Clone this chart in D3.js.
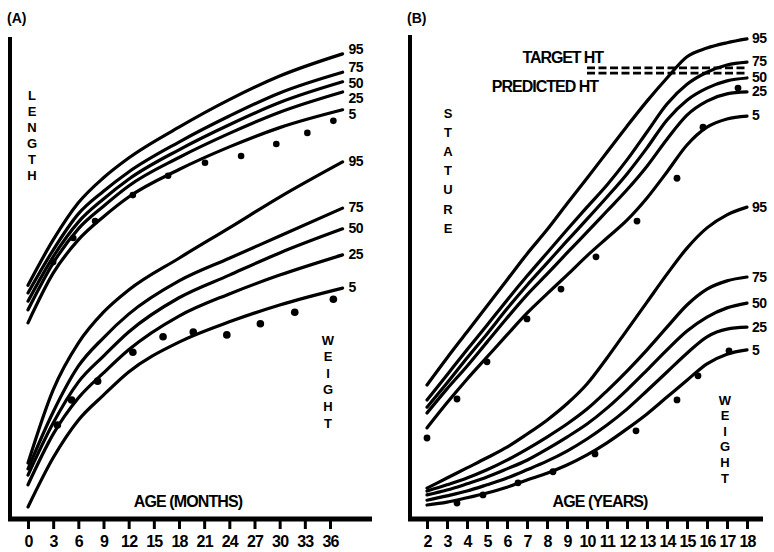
<!DOCTYPE html>
<html>
<head>
<meta charset="utf-8">
<script src="https://cdn.jsdelivr.net/npm/d3@7"></script>
<style>
  body { margin: 0; background: #fff; }
  text { font-family: "Liberation Sans", Arial, sans-serif; fill: #000; }
</style>
</head>
<body>
<div id="chart"></div>
<script>
"use strict";

// Values are relative units (0 = baseline, 100 = top of the panel)
const pctLabels = ["95", "75", "50", "25", "5"];

// Panel A: birth to 36 months
const ageMonths = [0, 3, 6, 9, 12, 18, 24, 30, 37.5];
const monthTicks = [0, 3, 6, 9, 12, 15, 18, 21, 24, 27, 30, 33, 36];
const lengthA = [
  [48.5, 57.9, 65.6, 70.8, 74.9, 81.3, 87.0, 91.9, 96.5],
  [46.9, 55.8, 63.3, 68.0, 72.0, 78.2, 83.6, 88.4, 92.7],
  [45.2, 54.4, 61.6, 66.4, 70.5, 76.6, 81.8, 86.4, 90.7],
  [43.4, 53.1, 60.2, 64.9, 69.1, 75.0, 80.0, 84.4, 88.6],
  [40.7, 51.0, 57.9, 62.7, 66.8, 72.5, 77.2, 81.2, 84.9]
];
const weightA = [
  [11.6, 26.8, 36.5, 42.9, 47.5, 54.1, 60.4, 66.8, 74.1],
  [10.4, 22.2, 31.7, 37.6, 42.5, 49.4, 54.1, 58.7, 64.5],
  [9.1, 19.9, 28.4, 33.8, 38.8, 45.9, 50.6, 55.2, 60.2],
  [7.1, 17.6, 25.1, 30.3, 35.1, 42.1, 46.7, 50.6, 54.8],
  [2.5, 12.7, 20.5, 25.7, 30.5, 36.7, 40.9, 44.4, 47.9]
];
const lengthDotMonths = [3.0, 5.4, 8.0, 12.5, 16.7, 21.1, 25.4, 29.6, 33.3, 36.4];
const lengthDots = [53.3, 58.3, 61.8, 67.2, 71.2, 73.9, 75.3, 77.8, 80.1, 82.6];
const weightDotMonths = [3.5, 5.2, 8.3, 12.5, 16.1, 19.7, 23.7, 27.7, 31.8, 36.4];
const weightDotsA = [19.5, 24.7, 28.6, 34.6, 37.8, 38.8, 38.2, 40.5, 42.9, 45.6];

// Panel B: 2 to 18 years
const ageYears = [2, 3, 4, 5, 6, 7, 8, 9, 10, 11, 12, 13, 14, 15, 16, 17, 18];
const statureB = [
  [27.8, 33.4, 38.8, 44.2, 49.6, 55.0, 60.0, 65.4, 70.7, 76.1, 81.5, 86.7, 91.5, 95.9, 97.7, 98.8, 99.6],
  [24.7, 29.9, 35.1, 40.2, 45.4, 50.4, 55.2, 60.0, 64.7, 69.3, 74.5, 80.3, 86.1, 90.2, 92.7, 94.2, 94.8],
  [23.2, 28.2, 33.4, 38.4, 43.6, 48.5, 53.1, 57.7, 62.2, 66.8, 71.6, 77.0, 82.8, 86.9, 89.4, 90.9, 91.5],
  [22.0, 27.0, 31.7, 36.7, 41.7, 46.5, 50.8, 55.2, 59.5, 63.9, 68.3, 73.2, 78.8, 83.8, 86.7, 88.2, 88.6],
  [18.9, 24.1, 29.0, 33.6, 38.2, 42.7, 46.7, 50.6, 54.6, 58.3, 62.0, 66.6, 72.0, 77.6, 81.3, 83.0, 83.6]
];
const weightB = [
  [6.4, 8.5, 10.6, 12.7, 14.9, 17.6, 20.5, 23.9, 28.0, 33.4, 39.2, 45.0, 50.8, 56.2, 60.4, 63.1, 64.7],
  [5.8, 7.1, 8.5, 10.2, 12.2, 14.5, 17.0, 19.7, 22.8, 26.6, 30.7, 35.1, 39.8, 44.4, 47.7, 49.4, 50.2],
  [5.0, 6.0, 7.3, 8.7, 10.4, 12.2, 14.5, 17.0, 19.7, 23.0, 26.8, 30.9, 35.1, 39.0, 41.9, 43.8, 44.8],
  [3.9, 4.8, 5.8, 7.1, 8.5, 10.2, 12.0, 14.1, 16.6, 19.5, 22.8, 26.6, 30.5, 34.4, 37.8, 39.4, 39.8],
  [2.9, 3.5, 4.4, 5.4, 6.6, 8.1, 9.5, 11.2, 13.3, 15.8, 18.7, 21.8, 25.3, 28.8, 32.2, 34.2, 35.1]
];
const statureDotYears = [2.0, 3.5, 5.0, 7.0, 8.7, 10.45, 12.5, 14.5, 15.8, 17.55];
const statureDots = [16.8, 24.9, 32.6, 41.5, 47.7, 54.4, 61.8, 70.7, 81.3, 89.4];
const weightDotYears = [3.5, 4.8, 6.55, 8.3, 10.4, 12.45, 14.5, 15.55, 17.1];
const weightDotsB = [3.3, 5.0, 7.5, 9.8, 13.5, 18.3, 24.7, 29.7, 34.9];
const heightLineYears = [10, 18];
const targetHt = 93.6;
const predictedHt = 92.5;

const svg = d3.select("#chart").append("svg")
  .attr("width", 774)
  .attr("height", 552);

const y = d3.scaleLinear().domain([0, 100]).range([519, 37]);
const xA = d3.scaleLinear().domain([0, 36]).range([28, 330]);
const xB = d3.scaleLinear().domain([2, 18]).range([427, 747]);

function curveLine(x) {
  return d3.line()
    .x(d => x(d[0]))
    .y(d => y(d[1]))
    .curve(d3.curveMonotoneX);
}

// spread labels so they don't overlap, keeping the group centred
function spreadLabels(ys, gap) {
  let out = ys.slice();
  for (let i = 1; i < out.length; i++) {
    if (out[i] - out[i - 1] < gap) out[i] = out[i - 1] + gap;
  }
  let shift = d3.mean(ys) - d3.mean(out);
  if (shift < 0) out = out.map(v => v + shift);
  return out;
}

function drawCurves(g, x, ages, series, labelDx, gap, dyLabel) {
  let line = curveLine(x);
  series.forEach(function(vals) {
    g.append("path")
      .datum(ages.map((a, i) => [a, vals[i]]))
      .attr("d", line)
      .attr("fill", "none")
      .attr("stroke", "#000")
      .attr("stroke-width", 3.2)
      .attr("stroke-linecap", "round")
      .attr("stroke-linejoin", "round");
  });
  let last = ages[ages.length - 1];
  let ends = series.map(vals => y(vals[vals.length - 1]) + dyLabel);
  let labelYs = spreadLabels(ends, gap);
  pctLabels.forEach(function(p, i) {
    g.append("text")
      .attr("x", x(last) + labelDx)
      .attr("y", labelYs[i])
      .attr("dy", "0.36em")
      .attr("font-size", "14px")
      .attr("font-weight", "bold")
      .attr("letter-spacing", "-0.5px")
      .text(p);
  });
}

function drawDots(g, x, ages, vals, r) {
  g.selectAll(null)
    .data(ages.map((a, i) => [a, vals[i]]))
    .enter().append("circle")
    .attr("cx", d => x(d[0]))
    .attr("cy", d => y(d[1]))
    .attr("r", r)
    .attr("fill", "#000");
}

function verticalWord(g, word, x, y0, step) {
  word.split("").forEach(function(ch, i) {
    g.append("text")
      .attr("x", x)
      .attr("y", y0 + i * step)
      .attr("dy", "0.36em")
      .attr("text-anchor", "middle")
      .attr("font-size", "13px")
      .attr("font-weight", "bold")
      .text(ch);
  });
}

function drawAxes(g, x, ticks, left, right, top) {
  let axis = d3.axisBottom(x)
    .tickValues(ticks)
    .tickSize(10)
    .tickPadding(6.5)
    .tickFormat(d3.format("d"));
  let ag = g.append("g")
    .attr("transform", "translate(0," + y(0) + ")")
    .call(axis);
  ag.select(".domain").remove();
  ag.selectAll(".tick line").attr("stroke", "#000").attr("stroke-width", 3);
  ag.selectAll(".tick text")
    .attr("fill", "#000")
    .attr("font-family", "'Liberation Sans', Arial, sans-serif")
    .attr("font-size", "16px")
    .attr("font-weight", "bold")
    .attr("letter-spacing", "-0.8px");

  g.append("line")
    .attr("x1", left).attr("x2", left)
    .attr("y1", top).attr("y2", y(0) + 2)
    .attr("stroke", "#000").attr("stroke-width", 4);
  g.append("line")
    .attr("x1", left - 2).attr("x2", right)
    .attr("y1", y(0)).attr("y2", y(0))
    .attr("stroke", "#000").attr("stroke-width", 5);
}

function plainText(g, x, yPos, anchor, spacing, str) {
  g.append("text")
    .attr("x", x).attr("y", yPos)
    .attr("text-anchor", anchor)
    .attr("font-size", "16px")
    .attr("font-weight", "bold")
    .attr("letter-spacing", spacing + "px")
    .text(str);
}

// ---- Panel A ----
let gA = svg.append("g");
gA.append("text").attr("x", 7).attr("y", 23)
  .attr("font-size", "14px").attr("font-weight", "bold").text("(A)");
drawAxes(gA, xA, monthTicks, 10, 372, 37);
drawCurves(gA, xA, ageMonths, lengthA, 6, 15.5, 0);
drawCurves(gA, xA, ageMonths, weightA, 6, 15.5, -1);
drawDots(gA, xA, lengthDotMonths, lengthDots, 3.3);
drawDots(gA, xA, weightDotMonths, weightDotsA, 3.8);
verticalWord(gA, "LENGTH", 32, 95, 16);
verticalWord(gA, "WEIGHT", 328, 340, 16.6);
plainText(gA, 188, 507, "middle", -0.9, "AGE (MONTHS)");

// ---- Panel B ----
let gB = svg.append("g");
gB.append("text").attr("x", 407).attr("y", 23)
  .attr("font-size", "14px").attr("font-weight", "bold").text("(B)");
drawAxes(gB, xB, ageYears, 410, 763, 35);
drawCurves(gB, xB, ageYears, statureB, 5, 14.5, -1);
drawCurves(gB, xB, ageYears, weightB, 5, 14.5, 0);
drawDots(gB, xB, statureDotYears, statureDots, 3.4);
drawDots(gB, xB, weightDotYears, weightDotsB, 3.4);

// target and predicted height
[targetHt, predictedHt].forEach(function(h) {
  gB.append("line")
    .attr("x1", xB(heightLineYears[0])).attr("x2", xB(heightLineYears[1]))
    .attr("y1", y(h)).attr("y2", y(h))
    .attr("stroke", "#000").attr("stroke-width", 2.6)
    .attr("stroke-dasharray", "8,3.5");
});
plainText(gB, 603, 63, "end", -1.1, "TARGET HT");
plainText(gB, 598, 92, "end", -1.0, "PREDICTED HT");

verticalWord(gB, "STATURE", 448, 113, 19.2);
verticalWord(gB, "WEIGHT", 725, 400, 15.6);
plainText(gB, 600, 507, "middle", -0.9, "AGE (YEARS)");
</script>
</body>
</html>
